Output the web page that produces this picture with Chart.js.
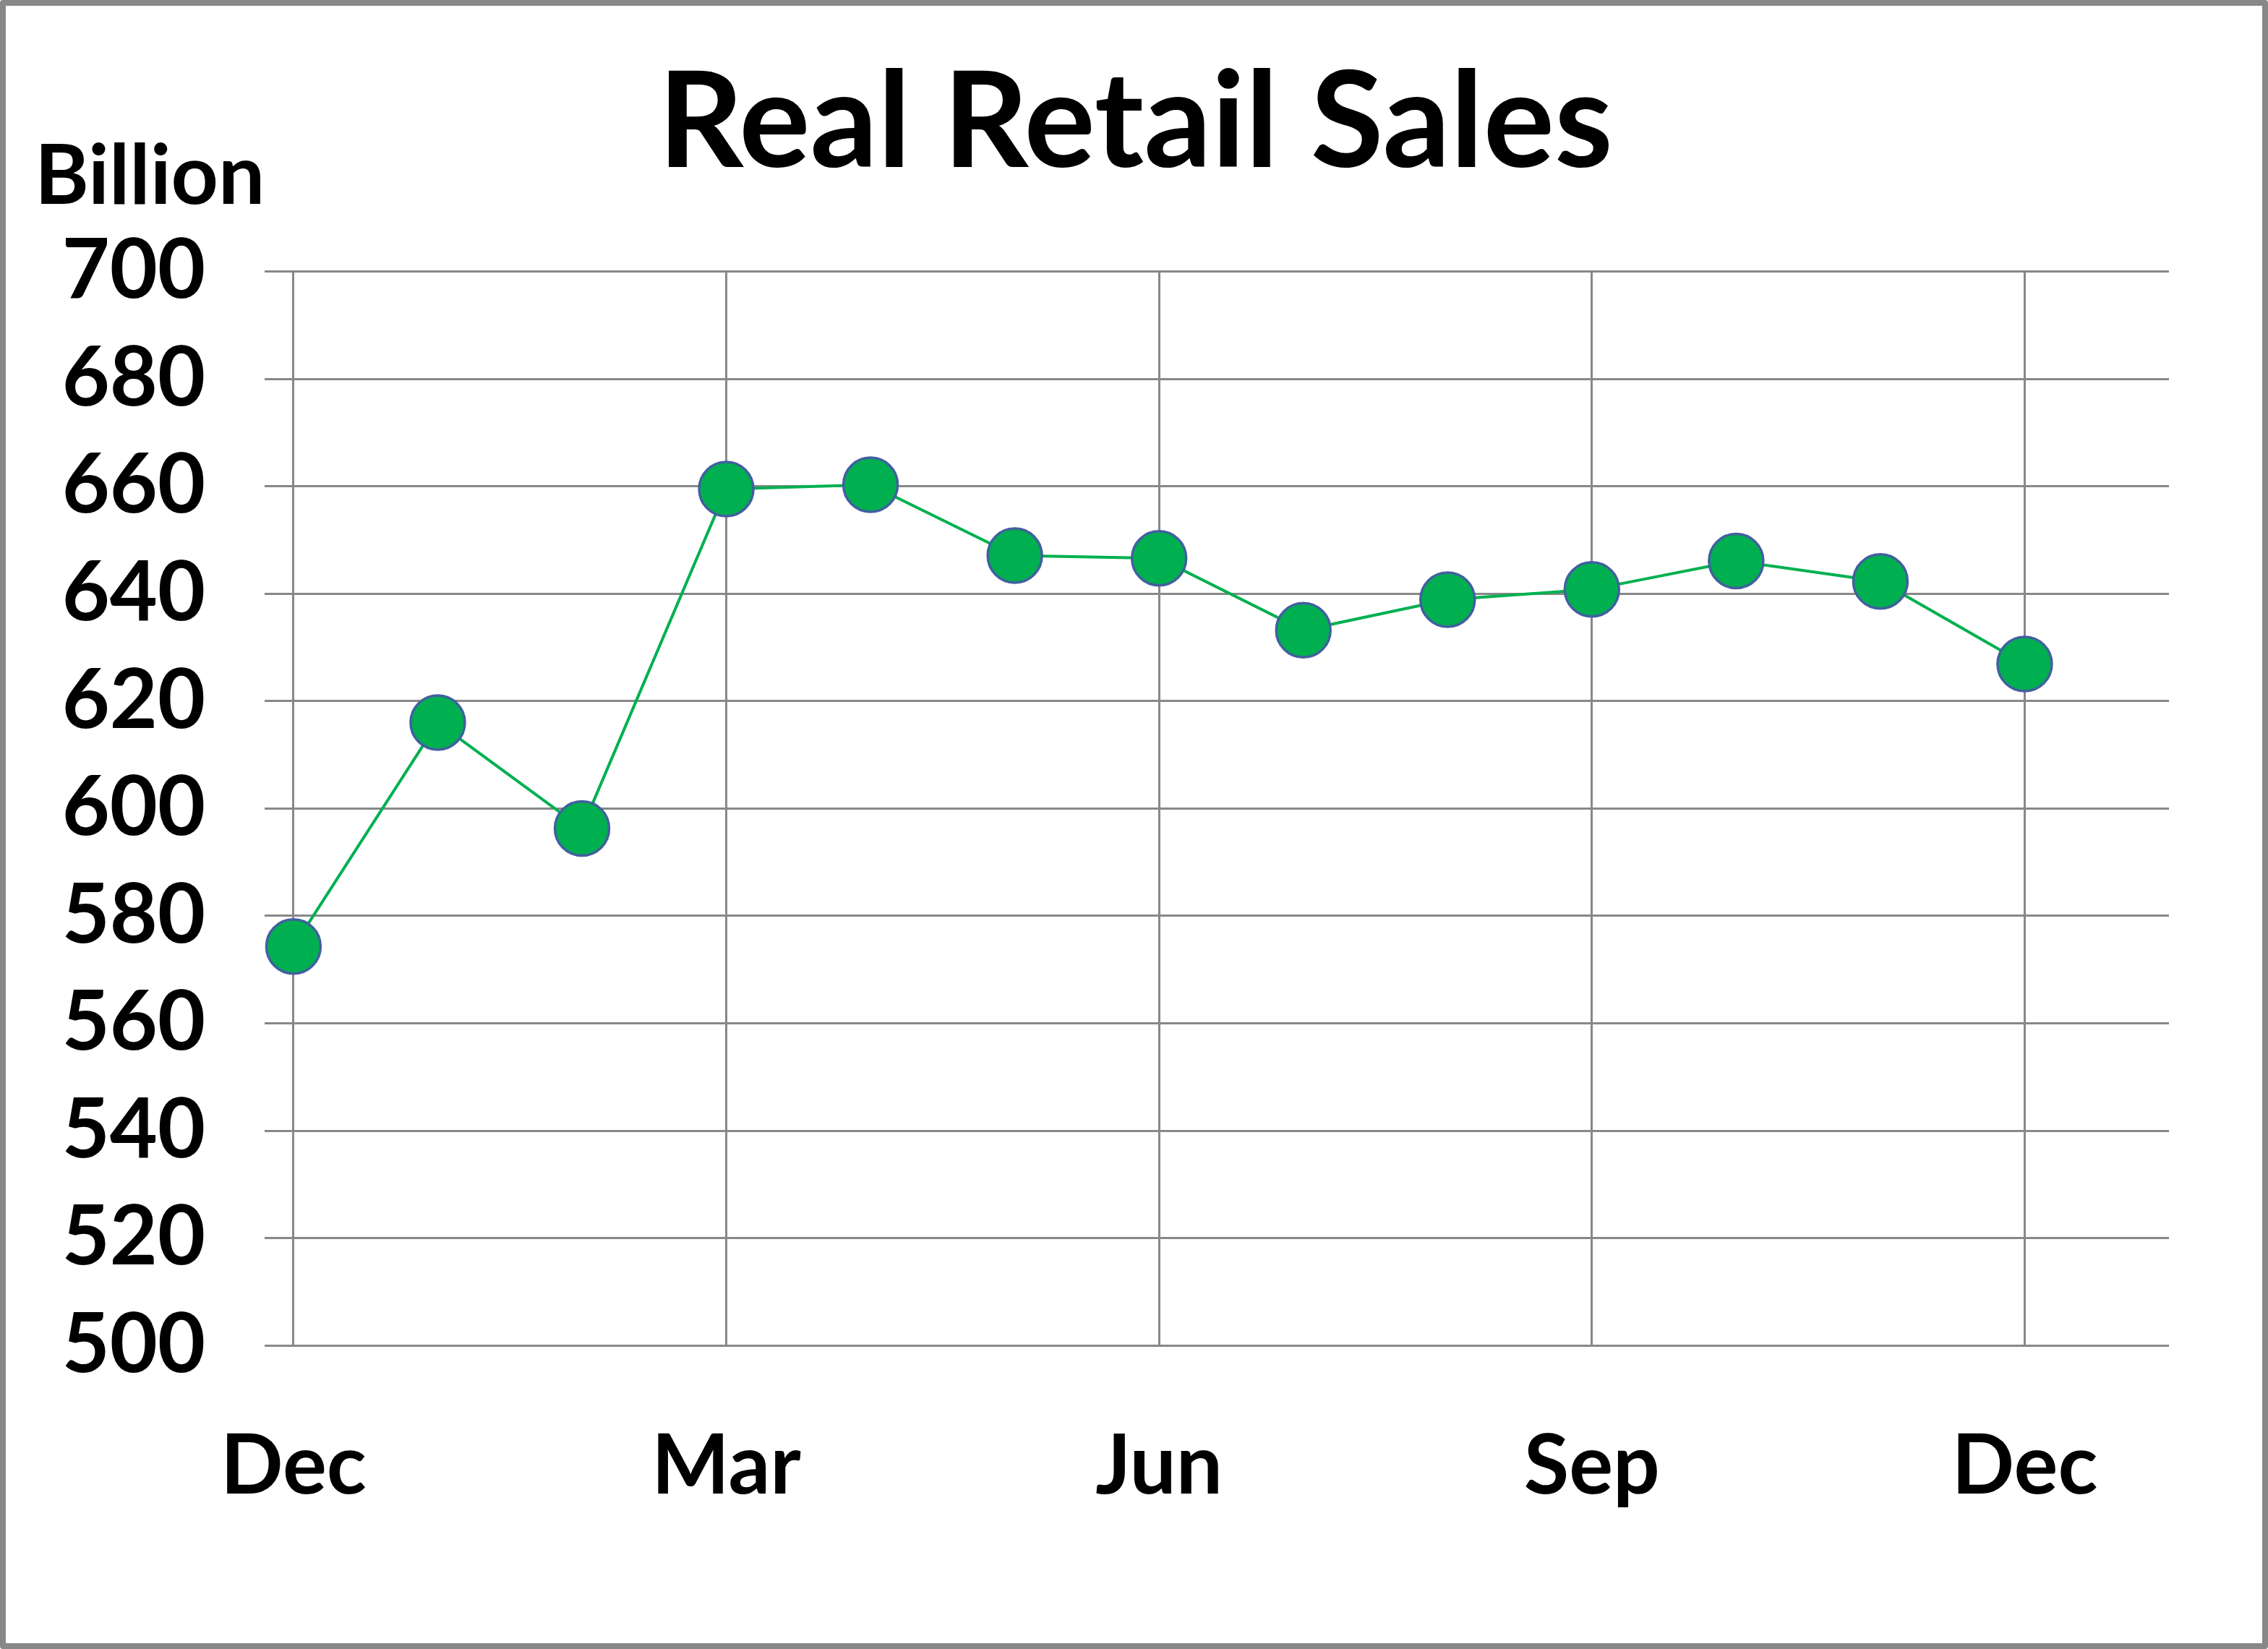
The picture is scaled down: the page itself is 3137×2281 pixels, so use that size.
<!DOCTYPE html>
<html lang="en">
  <head>
    <meta charset="UTF-8" />
    <title>Real Retail Sales</title>
    <script src="https://cdn.jsdelivr.net/npm/chart.js"></script>
    <style>
      html,
      body {
        margin: 0;
        padding: 0;
        background: #fff;
      }
      #frame {
        width: 3137px;
        height: 2281px;
        box-sizing: border-box;
        border: 8px solid #888;
        border-radius: 4px;
        position: relative;
      }
    </style>
  </head>
  <body>
    <div id="frame"><canvas id="salesChart"></canvas></div>

    <script>
      // monthly values, Dec through Dec (billion)
      const months = ["Dec", "Jan", "Feb", "Mar", "Apr", "May", "Jun", "Jul", "Aug", "Sep", "Oct", "Nov", "Dec"];
      const sales = [574.3, 616.0, 596.3, 659.5, 660.3, 647.1, 646.6, 633.2, 638.9, 640.8, 646.1, 642.3, 626.9];
      // only every third month gets a label + vertical gridline
      const labelledMonths = [0, 3, 6, 9, 12];
      const yMin = 500, yMax = 700, yStep = 20;
      const chartTitle = "Real Retail Sales";
      const unitText = "Billion";

      const FONT = "Lato, 'Open Sans', sans-serif";
      const GRID = "#888888";

      // title centred on the whole frame, plus the "Billion" unit label
      const headings = {
        id: "headings",
        afterDraw(chart) {
          const { ctx, chartArea, width } = chart;
          ctx.save();
          ctx.fillStyle = "#000";
          ctx.textBaseline = "alphabetic";

          ctx.font = `bold 184px ${FONT}`;
          ctx.textAlign = "center";
          ctx.fillText(chartTitle, width / 2 + 2, chartArea.top - 145);

          ctx.font = `bold 114px ${FONT}`;
          ctx.textAlign = "left";
          ctx.fillText(unitText, 40, chartArea.top - 94);
          ctx.restore();
        },
      };

      new Chart(document.getElementById("salesChart"), {
        type: "line",
        data: {
          datasets: [
            {
              data: sales.map((v, i) => ({ x: i, y: v })),
              borderColor: "#00B050",
              borderWidth: 4,
              pointRadius: 37.5,
              pointBorderWidth: 3.5,
              pointBackgroundColor: "#00B050",
              pointBorderColor: "#41609E",
              tension: 0,
              clip: false,
            },
          ],
        },
        options: {
          responsive: true,
          maintainAspectRatio: false,
          animation: false,
          layout: { padding: { left: 0, right: 129, top: 367.6, bottom: 0 } },
          plugins: {
            legend: { display: false },
            tooltip: { enabled: false },
            title: { display: false },
          },
          scales: {
            x: {
              type: "linear",
              min: -0.2,
              max: 13,
              afterBuildTicks: (scale) => {
                scale.ticks = labelledMonths.map((v) => ({ value: v }));
              },
              afterFit: (scale) => {
                scale.height = 411.8;
              },
              grid: { color: GRID, lineWidth: 3, drawTicks: false },
              border: { display: false },
              ticks: {
                padding: 100,
                color: "#000",
                font: { family: FONT, size: 114, weight: "bold" },
                maxRotation: 0,
                autoSkip: false,
                callback: (v) => months[v],
              },
            },
            y: {
              min: yMin,
              max: yMax,
              afterFit: (scale) => {
                scale.width = 358;
              },
              grid: { color: GRID, lineWidth: 3, drawTicks: false },
              border: { display: false },
              ticks: {
                stepSize: yStep,
                padding: 82,
                color: "#000",
                font: { family: FONT, size: 114, weight: "bold" },
              },
            },
          },
        },
        plugins: [headings],
      });
    </script>
  </body>
</html>
